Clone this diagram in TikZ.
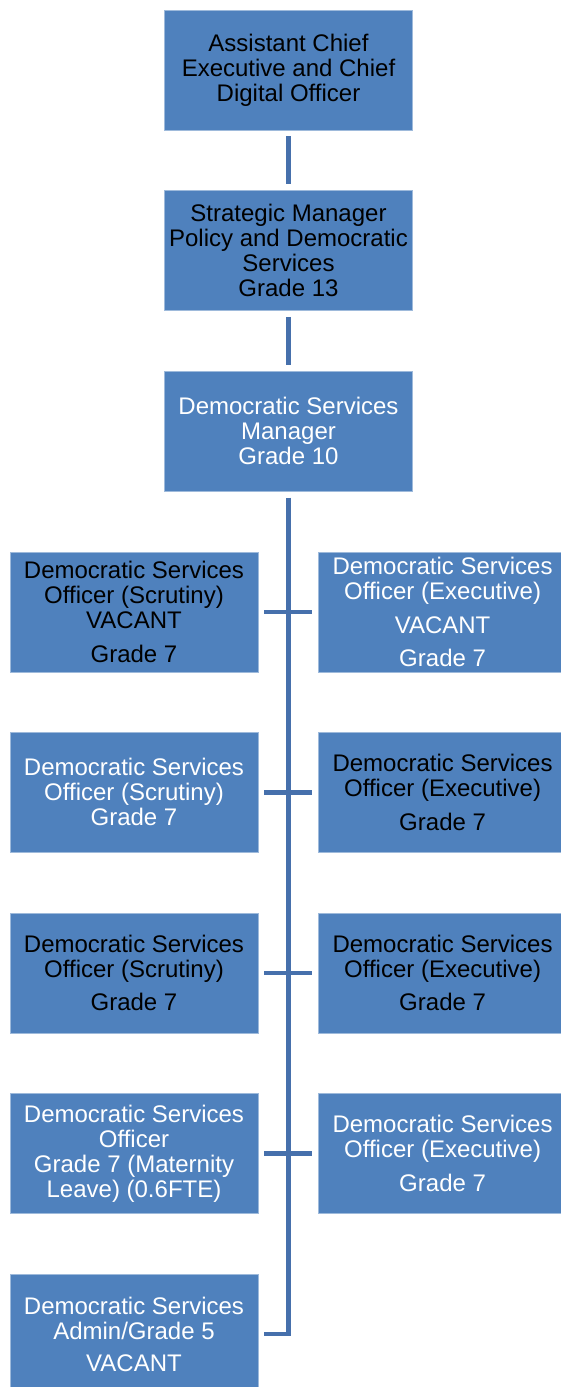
\documentclass[tikz,border=0pt]{standalone}
\usepackage{fontspec}
\setmainfont{Liberation Sans}
\usetikzlibrary{positioning}
\definecolor{postblue}{RGB}{79,129,189}
\definecolor{linkblue}{RGB}{70,112,172}

\begin{document}
\begin{tikzpicture}[
  every node/.style={align=center, font=\fontsize{24}{25}\selectfont},
  post/.style={rectangle, fill=postblue, draw=postblue!55!white, line width=0.6pt,
    minimum width=248pt, minimum height=120pt, inner sep=0pt},
  dark/.style={text=black},
  light/.style={text=white},
  link/.style={draw=linkblue, line width=4.5pt, line join=miter,
    shorten <=6pt, shorten >=6pt},
  node distance=60pt
]
\useasboundingbox (0,0) rectangle (560pt,-1387pt);
\node[post, dark] (ace) at (288.5pt,-70pt) {Assistant Chief\\Executive and Chief\\Digital Officer};
\node[post, dark, below=of ace] (spm) {Strategic Manager\\Policy and Democratic\\Services\\Grade 13};
\node[post, light, below=of spm] (dsm) {Democratic Services\\Manager\\Grade 10};
% officers
\node[post, dark, below=of dsm, xshift=-154.5pt] (l1) {Democratic Services\\Officer (Scrutiny)\\VACANT\\[9pt]Grade 7};
\node[post, light, right=of l1] (r1) {Democratic Services\\Officer (Executive)\\[9pt]VACANT\\[8pt]Grade 7};
\node[post, light, below=of l1] (l2) {Democratic Services\\Officer (Scrutiny)\\Grade 7};
\node[post, dark, right=of l2] (r2) {Democratic Services\\Officer (Executive)\\[9pt]Grade 7};
\node[post, dark, below=of l2] (l3) {Democratic Services\\Officer (Scrutiny)\\[8pt]Grade 7};
\node[post, dark, right=of l3] (r3) {Democratic Services\\Officer (Executive)\\[8pt]Grade 7};
\node[post, light, below=of l3] (l4) {Democratic Services\\Officer\\Grade 7 (Maternity\\Leave) (0.6FTE)};
\node[post, light, right=of l4] (r4) {Democratic Services\\Officer (Executive)\\[9pt]Grade 7};
\node[post, light, below=of l4] (adm) {Democratic Services\\Admin/Grade 5\\[7pt]VACANT};
% lines
\draw[link] (ace) -- (spm);
\draw[link] (spm) -- (dsm);
\draw[link] (dsm.south) -- (dsm.south |- adm.east) -- (adm.east);
\foreach \r in {1,...,4}
  \draw[link] (l\r.east) -- (r\r.west);
\end{tikzpicture}
\end{document}
